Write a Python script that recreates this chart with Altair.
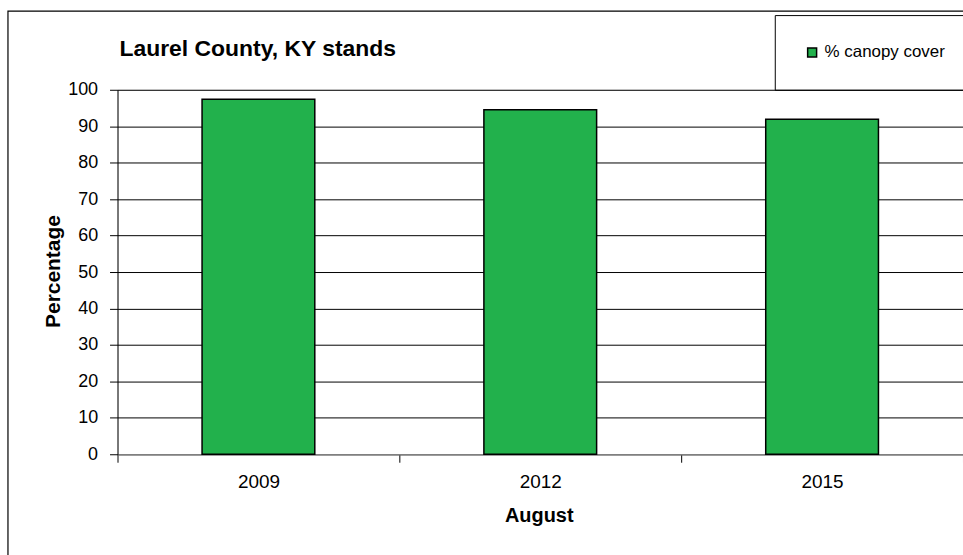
import altair as alt
import pandas as pd

years = ["2009", "2012", "2015"]
canopy = [97.4, 94.5, 91.9]
series_name = "% canopy cover"
y_ticks = [0, 10, 20, 30, 40, 50, 60, 70, 80, 90, 100]
chart_title = ["Laurel County, KY stands"]

df = pd.DataFrame({"year": years, "value": canopy, "series": [series_name] * len(years)})
title_df = pd.DataFrame({"t": chart_title})

FONT = "Liberation Sans"

bars = alt.Chart(df).mark_bar(stroke="black", strokeWidth=1.5, width=alt.RelativeBandSize(0.4)).encode(
    x=alt.X("year:N", sort=years,
            scale=alt.Scale(paddingInner=0, paddingOuter=0),
            axis=alt.Axis(title="August", labelAngle=0, tickBand="extent",
                          labelFontSize=19, labelFont=FONT, labelColor="black", labelPadding=10,
                          tickColor="black", tickSize=8, domainColor="#808080", domainWidth=1.5,
                          titleFontSize=20, titleFont=FONT, titleFontWeight="bold", titleColor="black",
                          titleX=423, titleY=62, titleBaseline="middle", grid=False)),
    y=alt.Y("value:Q", scale=alt.Scale(domain=[0, 100], nice=False),
            axis=alt.Axis(title="Percentage", values=y_ticks, grid=True, gridColor="black", gridWidth=1,
                          labelFontSize=18, labelFont=FONT, labelColor="black", labelPadding=12,
                          tickColor="black", tickSize=8, domainColor="black", domainWidth=1,
                          titleFontSize=21, titleFont=FONT, titleFontWeight="bold", titleColor="black",
                          titleX=-64, titleY=182, titleBaseline="middle", titleAngle=270)),
    color=alt.Color("series:N", scale=alt.Scale(range=["#22B14C"]),
                    legend=alt.Legend(title=None, orient="none", legendX=660, legendY=-75,
                                      padding=29, strokeColor="black", symbolType="square",
                                      symbolSize=81, symbolStrokeColor="black", symbolStrokeWidth=1.5,
                                      labelFontSize=17, labelFont=FONT, labelColor="black",
                                      labelOffset=4)),
)

border = alt.Chart(alt.Data(values=[{"a": 1}])).mark_rect(
    fill=None, stroke="black", strokeWidth=1.2
).encode(x=alt.value(-110), x2=alt.value(1000), y=alt.value(-79), y2=alt.value(700))

title_text = alt.Chart(title_df).mark_text(
    align="left", baseline="alphabetic", font=FONT, fontSize=23, fontWeight="bold", color="black"
).encode(text="t:N", x=alt.value(2), y=alt.value(-34))

chart = alt.layer(border, bars, title_text).properties(
    width=849, height=366,
    padding={"left": 118, "top": 89, "right": 0, "bottom": 100},
    autosize=alt.AutoSizeParams(type="none"),
).configure_view(stroke=None).configure(background="white")

chart.save("out.html", embed_options={"renderer": "svg", "actions": False})
